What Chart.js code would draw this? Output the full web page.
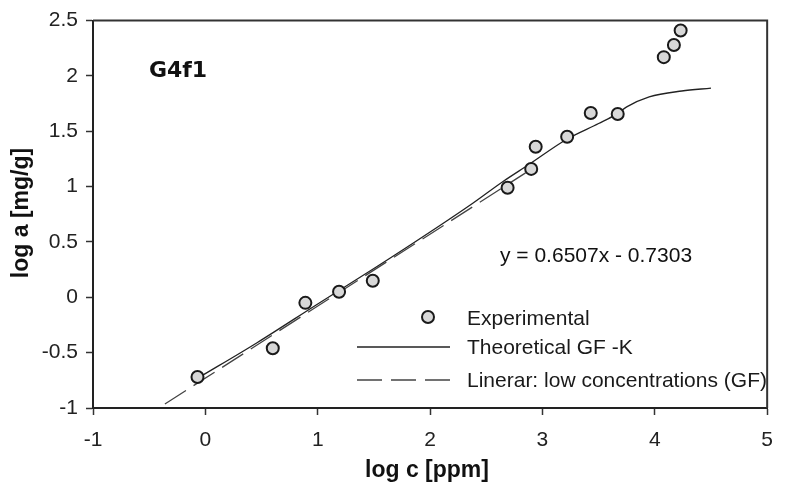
<!DOCTYPE html>
<html><head><meta charset="utf-8">
<script src="https://cdn.jsdelivr.net/npm/chart.js@4"></script>
<style>html,body{margin:0;padding:0;background:#fff}canvas{display:block}</style>
</head><body>
<canvas id="c" width="786" height="486"></canvas>
<script>
// values
const expX=[-0.07,0.60,0.89,1.19,1.49,2.69,2.90,2.94,3.22,3.43,3.67,4.08,4.17,4.23];
const expY=[-0.72,-0.46,-0.05,0.05,0.15,0.99,1.16,1.36,1.45,1.665,1.656,2.17,2.28,2.41];
const theoX=[-0.05,0.46,1.0,1.5,2.0,2.38,2.64,2.88,3.22,3.5,3.66,3.75,3.95,4.24,4.5];
const theoY=[-0.72,-0.41,-0.06,0.26,0.59,0.85,1.04,1.2,1.43,1.57,1.655,1.72,1.81,1.864,1.89];
const linX=[-0.36,2.85];
const linY=[-0.964,1.124];
const xTicks=[-1,0,1,2,3,4,5];
const yTicks=[-1,-0.5,0,0.5,1,1.5,2,2.5];
const legendLabels=['Experimental','Theoretical GF -K','Linerar: low concentrations (GF)'];
const xTitle='log c [ppm]', yTitle='log a [mg/g]';
const panelLabel='G4f1', eqText='y = 0.6507x - 0.7303';

const pts=(xs,ys)=>xs.map((x,i)=>({x,y:ys[i]}));
const REG='21px "Liberation Sans", Arial, sans-serif';
const BOLD='bold 23px "Liberation Sans", Arial, sans-serif';

const extras={
 id:'extras',
 afterDraw(chart){
   const {ctx,chartArea:a}=chart;
   ctx.save();
   // top and right frame
   ctx.strokeStyle='#333';ctx.lineWidth=2;
   ctx.beginPath();ctx.moveTo(a.left,a.top);ctx.lineTo(a.right,a.top);ctx.lineTo(a.right,a.bottom);ctx.stroke();
   ctx.fillStyle='#111';
   // axis titles
   ctx.font=BOLD;ctx.textAlign='center';ctx.textBaseline='middle';
   ctx.fillText(xTitle,427,471);
   ctx.save();ctx.translate(22,213);ctx.rotate(-Math.PI/2);ctx.fillText(yTitle,0,0);ctx.restore();
   ctx.font='bold 22px "DejaVu Sans", sans-serif';
   ctx.fillText(panelLabel,178,71);
   ctx.font=REG;ctx.textAlign='left';
   ctx.fillText(eqText,500,256);
   // legend
   const lx0=357,lx1=450,tx=467,rows=[318,347,380];
   ctx.beginPath();ctx.arc(428,rows[0]-1,6,0,Math.PI*2);
   ctx.fillStyle='#d8d8d8';ctx.fill();ctx.lineWidth=2;ctx.strokeStyle='#1a1a1a';ctx.stroke();
   ctx.lineWidth=1.3;ctx.strokeStyle='#222';
   ctx.beginPath();ctx.moveTo(lx0,rows[1]);ctx.lineTo(lx1,rows[1]);ctx.stroke();
   ctx.setLineDash([25,9]);ctx.strokeStyle='#444';
   ctx.beginPath();ctx.moveTo(lx0,rows[2]);ctx.lineTo(lx1,rows[2]);ctx.stroke();
   ctx.setLineDash([]);
   ctx.fillStyle='#1a1a1a';
   legendLabels.forEach((t,i)=>ctx.fillText(t,tx,rows[i]+1));
   ctx.restore();
 }
};

const axisCommon={
 border:{display:true,color:'#222',width:2},
 grid:{drawOnChartArea:false,drawTicks:true,tickLength:7,tickColor:'#333',tickWidth:1.5},
};

new Chart(document.getElementById('c'),{
 type:'scatter',
 data:{datasets:[
   {label:legendLabels[0],data:pts(expX,expY),pointRadius:6,pointHoverRadius:6,borderWidth:2,
    backgroundColor:'#d8d8d8',borderColor:'#1a1a1a',showLine:false},
   {label:legendLabels[1],data:pts(theoX,theoY),showLine:true,pointRadius:0,borderColor:'#222',
    borderWidth:1.3,cubicInterpolationMode:'monotone'},
   {label:legendLabels[2],data:pts(linX,linY),showLine:true,pointRadius:0,borderColor:'#444',
    borderWidth:1.3,borderDash:[25,9]}
 ]},
 options:{
   responsive:false,animation:false,
   layout:{padding:{left:0,top:17,right:6,bottom:0}},
   plugins:{legend:{display:false},tooltip:{enabled:false}},
   scales:{
     x:{...axisCommon,type:'linear',min:-1,max:5,
        afterBuildTicks:s=>{s.ticks=xTicks.map(v=>({value:v}));},
        afterFit:s=>{s.height=78;},
        ticks:{padding:13,color:'#222',font:{family:'"Liberation Sans", Arial, sans-serif',size:21},callback:v=>String(v)}},
     y:{...axisCommon,type:'linear',min:-1,max:2.5,
        afterBuildTicks:s=>{s.ticks=yTicks.map(v=>({value:v}));},
        afterFit:s=>{s.width=93;},
        ticks:{padding:8,color:'#222',font:{family:'"Liberation Sans", Arial, sans-serif',size:21},callback:v=>String(v)}}
   }
 },
 plugins:[extras]
});
</script>
</body></html>
